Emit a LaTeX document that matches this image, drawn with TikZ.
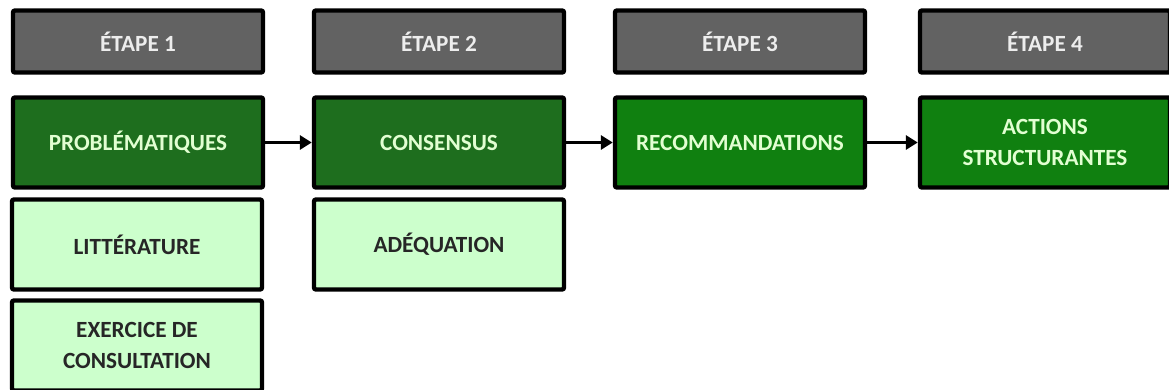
\documentclass[tikz,border=0pt]{standalone}
\usepackage{fontspec}
\setmainfont{Carlito}
\usepackage{tikz}
\usetikzlibrary{arrows.meta, positioning, calc}
\definecolor{colGrey}{RGB}{98, 98, 98}
\definecolor{colDark}{RGB}{30, 110, 30}
\definecolor{colBright}{RGB}{16, 128, 16}
\definecolor{colPale}{RGB}{204, 255, 204}
\definecolor{colTxt}{RGB}{226, 255, 210}

\tikzset{
    basebox/.style={draw=black, line width=2.2pt, rounded corners=1pt,
        minimum width=125pt, minimum height=45pt, align=center,
        font=\bfseries\fontsize{11.6}{15.5}\selectfont, inner sep=2pt},
    hdrbox/.style={basebox, fill=colGrey, text=white!93!black, minimum height=31pt},
    mainbox/.style={basebox, fill=#1, text=colTxt},
    subbox/.style={basebox, fill=colPale, text=black!85},
    flowarrow/.style={line width=1.5pt, -{Triangle[length=6pt, width=7pt]}}
}

\begin{document}
\begin{tikzpicture}[x=0.5pt, y=-0.5pt]
    \useasboundingbox (0, 0) rectangle (1169, 390);

    % --- En-tetes des etapes ---
    \node[hdrbox] (e1) at (138, 41.5) {ÉTAPE 1};
    \node[hdrbox] (e2) at (439, 41.5) {ÉTAPE 2};
    \node[hdrbox] (e3) at (740, 41.5) {ÉTAPE 3};
    \node[hdrbox] (e4) at (1045, 41.5) {ÉTAPE 4};

    % --- Boites principales ---
    \node[mainbox=colDark] (probl) at (138, 142.5) {PROBLÉMATIQUES};
    \node[mainbox=colDark] (cons) at (439, 142.5) {CONSENSUS};
    \node[mainbox=colBright] (recom) at (740, 142.5) {RECOMMANDATIONS};
    \node[mainbox=colBright] (actions) at (1045, 142.5) {ACTIONS\\STRUCTURANTES};

    % --- Sources (vert pale) ---
    \node[subbox] (litt) at (137, 244.5) {LITTÉRATURE};
    \node[subbox] (adeq) at (439, 244.5) {ADÉQUATION};
    \node[subbox] (exerc) at (137, 345.5) {EXERCICE DE\\CONSULTATION};

    % Fleches entre etapes
    \draw[flowarrow] (probl) -- (cons);
    \draw[flowarrow] (cons) -- (recom);
    \draw[flowarrow] (recom) -- (actions);

\end{tikzpicture}
\end{document}
